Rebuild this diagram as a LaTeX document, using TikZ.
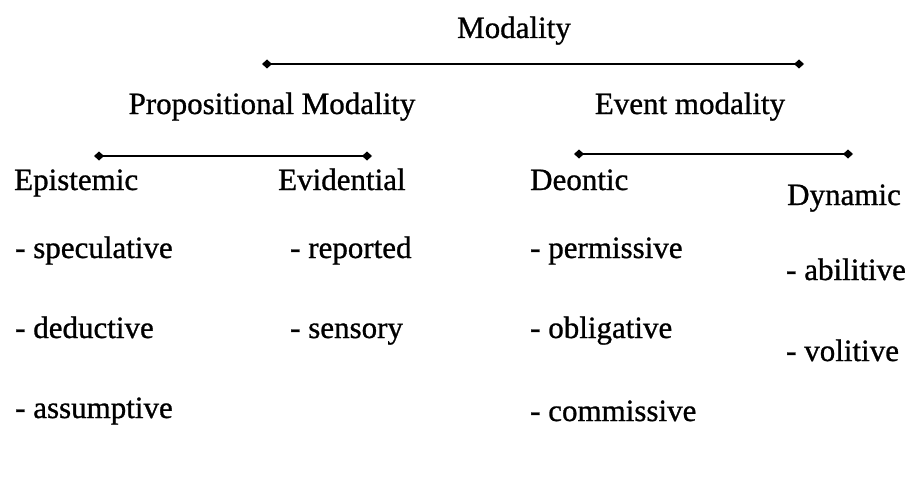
\documentclass[tikz,border=0pt]{standalone}
\usepackage{fontspec}
\setmainfont{Liberation Serif}
% slightly heavier serif for all labels
\newfontfamily\lblfont{Liberation Serif}[FakeBold=0.9]
\usetikzlibrary{arrows.meta}
\begin{document}
\begin{tikzpicture}[x=1pt,y=-1pt,
  lbl/.style={inner sep=0pt,font=\lblfont\fontsize{31}{36}\selectfont},
  lft/.style={lbl,anchor=base west},
  ctr/.style={lbl,anchor=base},
  bar/.style={line width=2.6pt,{Diamond[length=10pt,width=9pt]}-{Diamond[length=10pt,width=9pt]},shorten <=-4pt,shorten >=-4pt}]
\useasboundingbox (0,0) rectangle (915,492);

% headings
\node[ctr] (mod) at (514,38) {Modality};
\node[ctr] (prop) at (272,114) {Propositional Modality};
\node[ctr] (event) at (690,114) {Event modality};

% category labels
\node[lft] (epi) at (14,190) {Epistemic};
\node[lft] (evi) at (278,190) {Evidential};
\node[lft] (deo) at (530,190) {Deontic};
\node[lft] (dyn) at (787,205) {Dynamic};

% subtypes
\node[lft] (spec) at (15,258) {- speculative};
\node[lft] (ded)  at (15,338) {- deductive};
\node[lft] (ass)  at (15,418) {- assumptive};
\node[lft] (rep)  at (290,258) {- reported};
\node[lft] (sen)  at (290,338) {- sensory};
\node[lft] (perm) at (530,258) {- permissive};
\node[lft] (obl)  at (530,338) {- obligative};
\node[lft] (com)  at (530,421) {- commissive};
\node[lft] (abi)  at (786,280) {- abilitive};
\node[lft] (vol)  at (786,361) {- volitive};

% branch bars
\coordinate (m1) at (266,64);  \coordinate (m2) at (800,64);
\coordinate (p1) at (98,156);  \coordinate (p2) at (368,156);
\coordinate (e1) at (578,154); \coordinate (e2) at (849,154);
\draw[bar] (m1) -- (m2);
\draw[bar] (p1) -- (p2);
\draw[bar] (e1) -- (e2);
\end{tikzpicture}
\end{document}
